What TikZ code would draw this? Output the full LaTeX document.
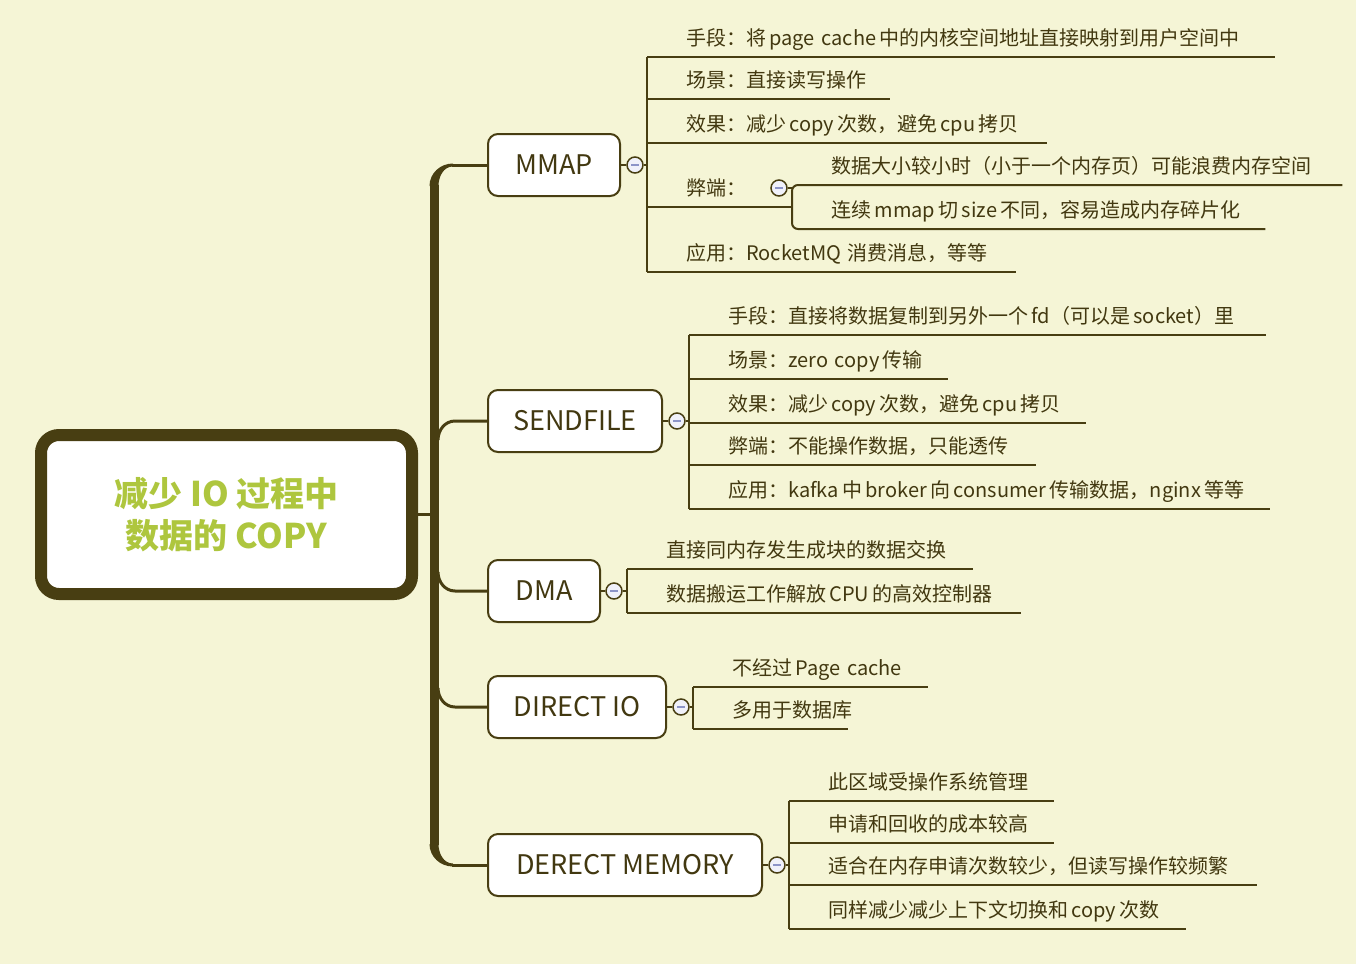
\documentclass[tikz,border=0pt]{standalone}
\usepackage{fontspec}
\newfontfamily\cjk{Noto Sans CJK SC}
\usetikzlibrary{positioning, calc}
\definecolor{bgcolor}{RGB}{245,245,214}
\definecolor{linecolor}{RGB}{72,62,18}
\definecolor{textcolor}{RGB}{66,56,16}
\definecolor{titlecolor}{RGB}{174,198,62}
\definecolor{minuscolor}{RGB}{140,148,200}
\definecolor{foldcolor}{RGB}{240,241,250}

\begin{document}
\begin{tikzpicture}[
    x=1pt, y=1pt,
    root/.style={draw=linecolor, line width=12pt, fill=white, rounded corners=18pt, minimum width=371pt, minimum height=159pt, font=\cjk\bfseries\fontsize{34}{42}\selectfont, text=titlecolor, align=center},
    topic/.style={draw=linecolor, line width=2pt, fill=white, rounded corners=10pt, minimum height=62pt, anchor=west, font=\cjk\fontsize{27}{32}\selectfont, text=textcolor},
    fold/.style={draw=linecolor, line width=1.5pt, fill=foldcolor, circle, minimum size=16pt, inner sep=0pt, path picture={\draw[minuscolor, line width=1.6pt] ([xshift=-4pt]path picture bounding box.center) -- ([xshift=4pt]path picture bounding box.center);}},
    item/.style={anchor=south west, inner xsep=0pt, inner ysep=11pt, text depth=0pt, align=left, font=\cjk\fontsize{20}{24}\selectfont, text=textcolor, execute at begin node={\noindent\hspace*{39pt}}},
    uline/.style={draw=linecolor, line width=2pt},
    branch/.style={draw=linecolor, line width=3pt}
]
    \useasboundingbox (0,0) rectangle (1356,-964);
    \fill[bgcolor] (0,0) rectangle (1356,-964);

    % Trunk
    \draw[linecolor, line width=9pt] (434,-185) -- (434,-845);
    \fill[linecolor] (429.5,-186) to[out=90,in=180] (453,-163.5) -- (453,-166.5) to[out=180,in=90] (438.5,-186) -- cycle;
    \fill[linecolor] (429.5,-844) to[out=-90,in=180] (453,-866.5) -- (453,-863.5) to[out=180,in=-90] (438.5,-844) -- cycle;

    % Main topic
    \node[root] (root) at (226.5,-514.5) {减少 IO 过程中\\数据的 COPY};

    % Topics
    \node[topic, minimum width=132pt] (mmap) at (487,-165) {MMAP};
    \node[topic, minimum width=174pt] (sendfile) at (487,-421) {SENDFILE};
    \node[topic, minimum width=112pt] (dma) at (487,-591) {DMA};
    \node[topic, minimum width=178pt] (direct) at (487,-707) {DIRECT IO};
    \node[topic, minimum width=274pt] (memory) at (487,-865) {DERECT MEMORY};

    % Branches
    \coordinate (t1) at (452,-165);
    \coordinate (t2) at (438,-440);
    \coordinate (t3) at (438,-572);
    \coordinate (t4) at (438,-688);
    \coordinate (t5) at (452,-865);
    \draw[branch] (root.east) -- ++(14,0);
    \draw[branch] (t1) -- (mmap.west);
    \draw[branch] (t2) to[out=90,in=180] (455,-421) -- (sendfile.west);
    \draw[branch] (t3) to[out=-90,in=180] (455,-591) -- (dma.west);
    \draw[branch] (t4) to[out=-90,in=180] (455,-707) -- (direct.west);
    \draw[branch] (t5) -- (memory.west);

    % Fold buttons
    \node[fold] (fm) at (635,-165) {};
    \node[fold] (fm4) at (779,-188) {};
    \node[fold] (fs) at (677,-421) {};
    \node[fold] (fd) at (614,-591) {};
    \node[fold] (fi) at (681,-707) {};
    \node[fold] (fe) at (777,-865) {};

    % MMAP items
    \node[item, text width=628pt] (m1) at (647,-57) {手段：将\,page cache\,中的内核空间地址直接映射到用户空间中};
    \node[item, text width=243pt] (m2) at (647,-99) {场景：直接读写操作};
    \node[item, text width=400pt] (m3) at (647,-143) {效果：减少\,copy\,次数，避免\,cpu\,拷贝};
    \node[item, text width=145pt] (m4) at (647,-207) {弊端：};
    \node[item, text width=369pt] (m5) at (647,-272) {应用：RocketMQ 消费消息，等等};
    \node[item, text width=550pt] (m4a) at (792,-185) {数据大小较小时（小于一个内存页）可能浪费内存空间};
    \node[item, text width=473pt] (m4b) at (792,-229) {连续\,mmap\,切\,size\,不同，容易造成内存碎片化};

    % SENDFILE items
    \node[item, text width=577pt] (s1) at (689,-335) {手段：直接将数据复制到另外一个\,fd（可以是\,socket）里};
    \node[item, text width=259pt] (s2) at (689,-379) {场景：zero copy\,传输};
    \node[item, text width=397pt] (s3) at (689,-423) {效果：减少\,copy\,次数，避免\,cpu\,拷贝};
    \node[item, text width=347pt] (s4) at (689,-465) {弊端：不能操作数据，只能透传};
    \node[item, text width=581pt] (s5) at (689,-509) {应用：kafka\,中\,broker\,向\,consumer\,传输数据，nginx\,等等};

    % DMA items
    \node[item, text width=346pt] (d1) at (627,-569) {直接同内存发生成块的数据交换};
    \node[item, text width=394pt] (d2) at (627,-613) {数据搬运工作解放\,CPU\,的高效控制器};

    % DIRECT IO items
    \node[item, text width=235pt] (i1) at (693,-687) {不经过\,Page cache};
    \node[item, text width=155pt] (i2) at (693,-729) {多用于数据库};

    % DERECT MEMORY items
    \node[item, text width=265pt] (e1) at (789,-801) {此区域受操作系统管理};
    \node[item, text width=265pt] (e2) at (789,-843) {申请和回收的成本较高};
    \node[item, text width=468pt] (e3) at (789,-885) {适合在内存申请次数较少，但读写操作较频繁};
    \node[item, text width=397pt] (e4) at (789,-929) {同样减少减少上下文切换和\,copy\,次数};

    % Connectors
    \draw[uline] (mmap.east) -- (fm);
    \draw[uline] (fm) -- (fm -| m1.south west);
    \draw[uline] (m1.south west) -- (m5.south west);
    \draw[uline] (fm4) -- (fm4 -| m4a.south west);
    \draw[uline, rounded corners=6pt] (m4a.south east) -- (m4a.south west) -- (m4b.south west) -- (m4b.south east);
    \draw[uline] (sendfile.east) -- (fs);
    \draw[uline] (fs) -- (fs -| s1.south west);
    \draw[uline] (s1.south west) -- (s5.south west);
    \draw[uline] (dma.east) -- (fd);
    \draw[uline] (fd) -- (fd -| d1.south west);
    \draw[uline] (d1.south west) -- (d2.south west);
    \draw[uline] (direct.east) -- (fi);
    \draw[uline] (fi) -- (fi -| i1.south west);
    \draw[uline] (i1.south west) -- (i2.south west);
    \draw[uline] (memory.east) -- (fe);
    \draw[uline] (fe) -- (fe -| e1.south west);
    \draw[uline] (e1.south west) -- (e4.south west);

    % Underlines
    \draw[uline] (m1.south west) -- (m1.south east);
    \draw[uline] (m2.south west) -- (m2.south east);
    \draw[uline] (m3.south west) -- (m3.south east);
    \draw[uline] (m4.south west) -- (m4.south east);
    \draw[uline] (m5.south west) -- (m5.south east);
    \draw[uline] (s1.south west) -- (s1.south east);
    \draw[uline] (s2.south west) -- (s2.south east);
    \draw[uline] (s3.south west) -- (s3.south east);
    \draw[uline] (s4.south west) -- (s4.south east);
    \draw[uline] (s5.south west) -- (s5.south east);
    \draw[uline] (d1.south west) -- (d1.south east);
    \draw[uline] (d2.south west) -- (d2.south east);
    \draw[uline] (i1.south west) -- (i1.south east);
    \draw[uline] (i2.south west) -- (i2.south east);
    \draw[uline] (e1.south west) -- (e1.south east);
    \draw[uline] (e2.south west) -- (e2.south east);
    \draw[uline] (e3.south west) -- (e3.south east);
    \draw[uline] (e4.south west) -- (e4.south east);
\end{tikzpicture}
\end{document}
